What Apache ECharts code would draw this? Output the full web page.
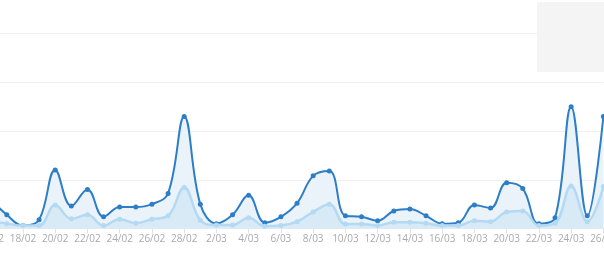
<!DOCTYPE html>
<html><head><meta charset="utf-8">
<script src="https://cdn.jsdelivr.net/npm/echarts@6/dist/echarts.min.js"></script>
<style>html,body{margin:0;padding:0;background:#fff;overflow:hidden;width:604px;height:270px}#c{position:absolute;left:-10px;top:0;width:614px;height:270px}</style>
</head><body><div id="c"></div>
<script>
const categories = ['16/02','17/02','18/02','19/02','20/02','21/02','22/02','23/02','24/02','25/02','26/02','27/02','28/02',
  '1/03','2/03','3/03','4/03','5/03','6/03','7/03','8/03','9/03','10/03','11/03','12/03','13/03','14/03','15/03','16/03',
  '17/03','18/03','19/03','20/03','21/03','22/03','23/03','24/03','25/03','26/03'];
const seriesTotal = [30,14,3,9,60,23,40,12,22,22,25,36,115,25,5,14,34,6,12,26,54,59,13,12,8,18,20,13,5,6,24,21,47,41,5,11,125,13,115];
const seriesUnique = [8,5,3,3,24,10,14,3,9.5,5.5,9.5,13,42,8.5,3.5,3.5,11,2.3,3,7,17,25,4.5,4.5,3,6.4,6.4,5.4,3,3,8,7,17,18,3,5.4,43.5,7,43];
const yTicks = [0,50,100,150,200];

const chart = echarts.init(document.getElementById('c'));
chart.setOption({
  animation:false,
  grid:{left:0.7,right:0.6,top:33.5,bottom:41.5,containLabel:false,outerBoundsMode:'none'},
  xAxis:{type:'category',data:categories,boundaryGap:false,
    axisLine:{lineStyle:{color:'#dde3ea',width:1}},
    axisTick:{show:true,interval:1,length:5,lineStyle:{color:'#dde3ea'}},
    axisLabel:{interval:1,color:'#aaaaaa',fontSize:10,fontFamily:'Open Sans, sans-serif',margin:6,hideOverlap:false,showMinLabel:true,showMaxLabel:true},
    splitLine:{show:false}},
  yAxis:{type:'value',min:yTicks[0],max:yTicks[yTicks.length-1],interval:50,
    axisLabel:{show:false},axisLine:{show:false},axisTick:{show:false},
    splitLine:{lineStyle:{color:'#efefef',width:1}}},
  series:[
    {type:'line',data:seriesTotal,smooth:0.4,symbol:'circle',symbolSize:5,
      lineStyle:{color:'#2d7ec6',width:2},itemStyle:{color:'#2d7ec6'},
      areaStyle:{color:'#eaf2fa',opacity:1},z:2},
    {type:'line',data:seriesUnique,smooth:0.4,symbol:'circle',symbolSize:5,
      lineStyle:{color:'#b3d9f3',width:2.5},itemStyle:{color:'#b3d9f3'},
      areaStyle:{color:'#d9eaf7',opacity:1},z:3}
  ],
  graphic:[{type:'rect',shape:{x:547,y:2,width:70,height:70},style:{fill:'#f4f4f4'},z:10}]
});
</script></body></html>
